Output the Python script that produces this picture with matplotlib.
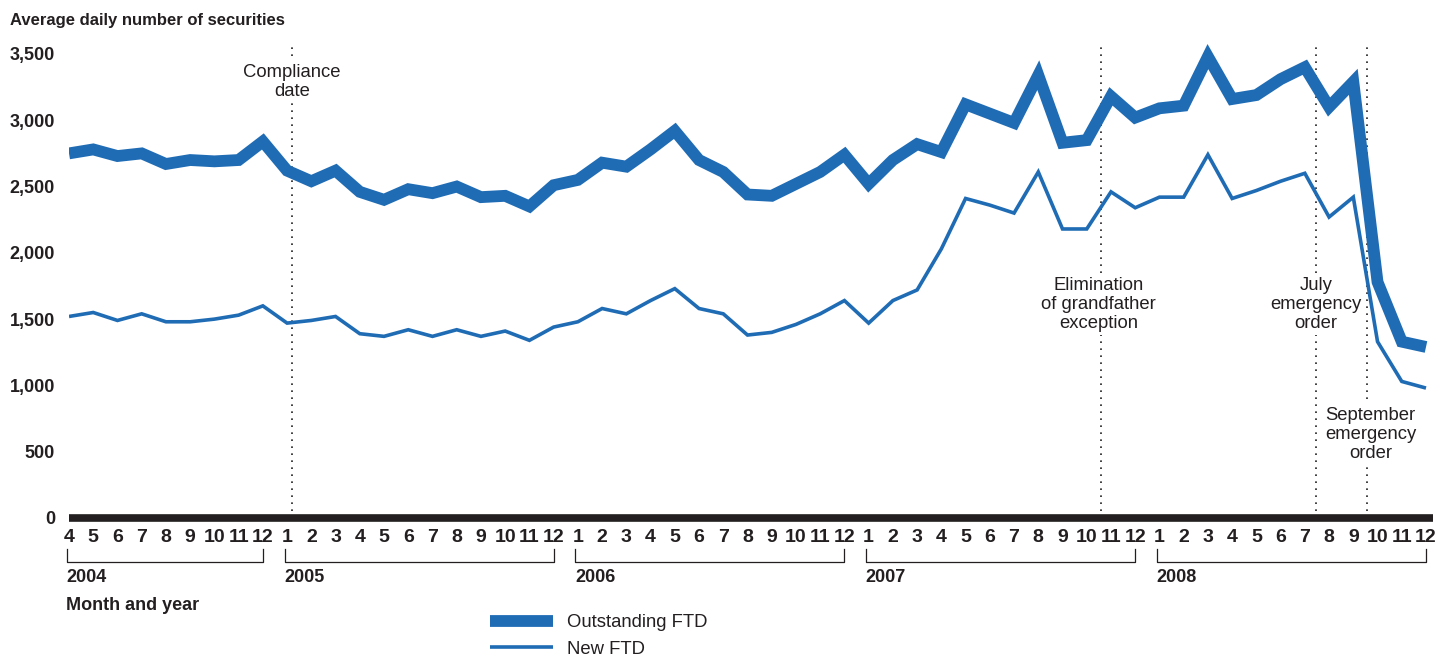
import numpy as np
import matplotlib
matplotlib.use("Agg")
import matplotlib.pyplot as plt
import matplotlib.transforms as mtransforms

# Monthly data, April 2004 .. December 2008
months = [4, 5, 6, 7, 8, 9, 10, 11, 12] + list(range(1, 13)) * 4
years = ["2004", "2005", "2006", "2007", "2008"]
year_spans = [(0, 8), (9, 20), (21, 32), (33, 44), (45, 56)]

outstanding_ftd = [
    2750, 2780, 2730, 2750, 2670, 2700, 2690, 2700, 2840,              # 2004
    2620, 2540, 2620, 2460, 2400, 2480, 2450, 2500, 2420, 2430, 2350, 2510,  # 2005
    2550, 2680, 2650, 2780, 2920, 2700, 2610, 2440, 2430, 2520, 2610, 2740,  # 2006
    2520, 2700, 2820, 2760, 3120, 3050, 2980, 3340, 2830, 2850, 3180, 3020,  # 2007
    3090, 3110, 3480, 3160, 3190, 3310, 3400, 3100, 3290, 1780, 1330, 1290,  # 2008
]
new_ftd = [
    1520, 1550, 1490, 1540, 1480, 1480, 1500, 1530, 1600,
    1470, 1490, 1520, 1390, 1370, 1420, 1370, 1420, 1370, 1410, 1340, 1440,
    1480, 1580, 1540, 1640, 1730, 1580, 1540, 1380, 1400, 1460, 1540, 1640,
    1470, 1640, 1720, 2030, 2410, 2360, 2300, 2610, 2180, 2180, 2460, 2340,
    2420, 2420, 2740, 2410, 2470, 2540, 2600, 2270, 2420, 1330, 1030, 980,
]

# events: position in month index, label, label height (data units)
event_x = [9.2, 42.6, 51.47, 53.57]
event_labels = ["Compliance\ndate", "Elimination\nof grandfather\nexception",
                "July\nemergency\norder", "September\nemergency\norder"]
event_label_y = [3290, 1610, 1610, 630]
event_label_dx = [0, -0.1, 0, 0.15]

y_ticks = [0, 500, 1000, 1500, 2000, 2500, 3000, 3500]

blue = "#1F6CB5"
dark = "#231F20"
bold_narrow = ["Liberation Sans Narrow", "Liberation Sans", "DejaVu Sans"]
plain = ["Liberation Sans", "DejaVu Sans"]

fig = plt.figure(figsize=(14.39, 6.58), dpi=100)
W, H = 1439, 658
ax = fig.add_axes([69 / W, 1 - 518 / H, (1433 - 69) / W, (518 - 40.7) / H])

x = np.arange(len(months))
ax.plot(x, outstanding_ftd, color=blue, linewidth=8.5, solid_joinstyle="miter",
        solid_capstyle="butt", label="Outstanding FTD", zorder=3)
ax.plot(x, new_ftd, color=blue, linewidth=2.6, solid_joinstyle="miter",
        solid_capstyle="butt", label="New FTD", zorder=3)

ax.set_xlim(0, 56 * (1433 - 69) / (1426 - 69))
ax.set_ylim(0, 3600)

# thick zero baseline
ax.axhline(0, color=dark, linewidth=5.5, clip_on=False, zorder=4,
           solid_capstyle="butt")

# event markers
for ex, lab, ly, dx in zip(event_x, event_labels, event_label_y, event_label_dx):
    ax.plot([ex, ex], [0, 3555], color=dark, linewidth=1.2,
            linestyle=(0, (1, 3.2)), zorder=1)
    ax.text(ex + dx, ly, lab, ha="center", va="center", fontsize=13.3,
            family=plain, color=dark, linespacing=1.18, zorder=2,
            bbox=dict(facecolor="white", edgecolor="none", pad=2))

for s in ax.spines.values():
    s.set_visible(False)

ax.set_yticks(y_ticks)
ax.set_yticklabels([f"{v:,}" for v in y_ticks], fontsize=13,
                   fontweight="bold", family=["Liberation Sans", "DejaVu Sans"],
                   color=dark)
ax.set_xticks(x)
ax.set_xticklabels([str(m) for m in months], fontsize=14, fontweight="bold",
                   family=bold_narrow, color=dark)
ax.tick_params(axis="y", length=0, pad=10)
ax.tick_params(axis="x", length=0, pad=8)

# year brackets below month labels
trans = mtransforms.blended_transform_factory(ax.transData, ax.transAxes)
by = -(562 - 518) / (518 - 40.7)
bt = -(549 - 518) / (518 - 40.7)
for yr, (a, b) in zip(years, year_spans):
    ax.plot([a - 0.1, a - 0.1, b, b], [bt, by, by, bt], color=dark,
            linewidth=0.9, transform=trans, clip_on=False)
    ax.text(a - 0.12, -(578 - 518) / (518 - 40.7), yr, transform=trans,
            ha="left", va="center", fontsize=13, fontweight="bold",
            family=bold_narrow, color=dark)

fig.text(66 / W, 1 - 605 / H, "Month and year", ha="left", va="center",
         fontsize=13, fontweight="bold", family=bold_narrow, color=dark)
fig.text(10 / W, 1 - 20 / H, "Average daily number of securities", ha="left",
         va="center", fontsize=12, fontweight="bold", family=plain, color=dark)

leg = fig.legend(loc="upper left", bbox_to_anchor=(490 / W, 1 - 614 / H),
                 frameon=False, borderpad=0, borderaxespad=0,
                 handlelength=3.4, handletextpad=0.75,
                 labelspacing=0.52, prop={"family": plain, "size": 13.3})
for t in leg.get_texts():
    t.set_color(dark)

fig.savefig("out.png", dpi=100, facecolor="white")
